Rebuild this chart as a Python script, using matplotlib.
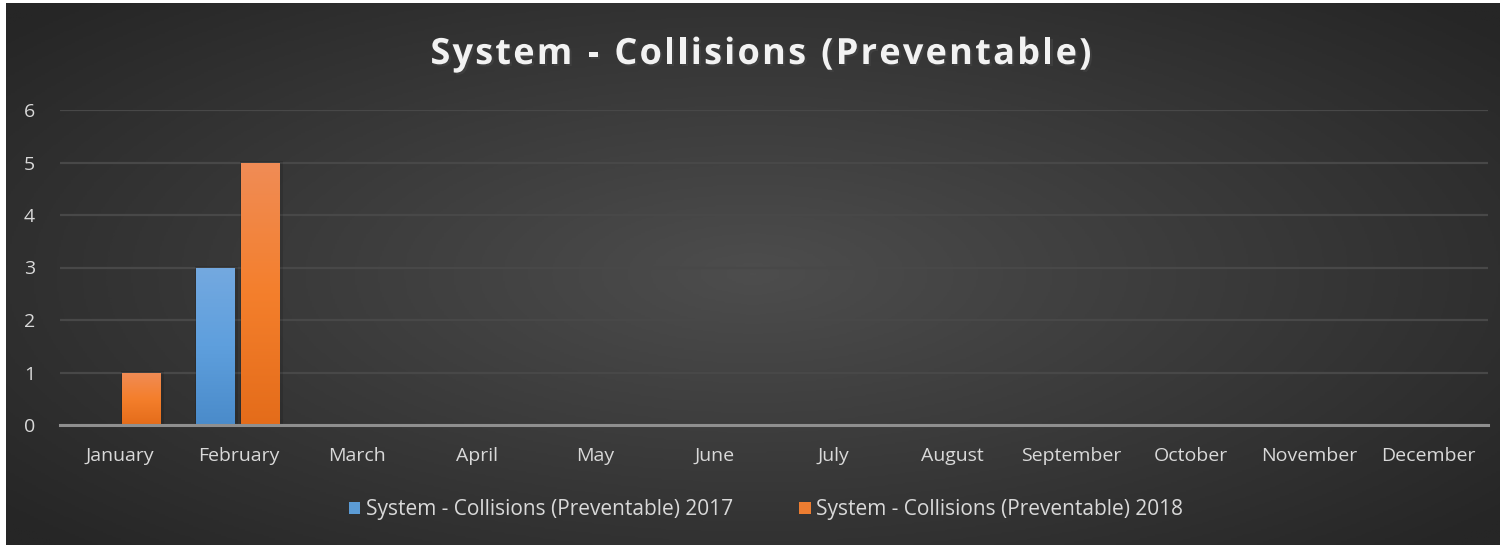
import matplotlib.pyplot as plt
import numpy as np
from matplotlib.colors import LinearSegmentedColormap
from matplotlib.patches import Patch
import matplotlib.patheffects as pe

months = ["January", "February", "March", "April", "May", "June", "July",
          "August", "September", "October", "November", "December"]
collisions_2017 = [0, 3, 0, 0, 0, 0, 0, 0, 0, 0, 0, 0]
collisions_2018 = [1, 5, 0, 0, 0, 0, 0, 0, 0, 0, 0, 0]
series_names = ["System - Collisions (Preventable) 2017",
                "System - Collisions (Preventable) 2018"]
title = "System - Collisions (Preventable)"

plt.rcParams['font.family'] = ['Open Sans', 'DejaVu Sans']

fig = plt.figure(figsize=(15.08, 5.48), dpi=100, facecolor="white")

# dark radial background panel
bg = fig.add_axes([6/1508, 3/548, 1494/1508, 542/548])
bg.set_axis_off()
yy, xx = np.mgrid[-1:1:300j, -1:1:800j]
r = np.sqrt((xx / 1.0) ** 2 + (yy / 1.1) ** 2)
bg_cmap = LinearSegmentedColormap.from_list("bg", ["#4d4d4d", "#262626"])
bg.imshow(r, cmap=bg_cmap, aspect="auto", extent=[0, 1, 0, 1], vmin=0, vmax=1.3)
bg.set_xlim(0, 1)
bg.set_ylim(0, 1)

ax = fig.add_axes([60/1508, 123/548, 1428/1508, 315/548])
ax.patch.set_alpha(0)

x = np.arange(len(months))
w = 0.32
b17 = ax.bar(x - 0.195, collisions_2017, w, color="#5b9bd5", label=series_names[0], zorder=3)
b18 = ax.bar(x + 0.185, collisions_2018, w, color="#ed7d31", label=series_names[1], zorder=3)

# vertical gradient fill on bars
grads = {
    "blue": LinearSegmentedColormap.from_list("b", ["#4a8bca", "#5e9fdd", "#74a9e0"]),
    "orange": LinearSegmentedColormap.from_list("o", ["#e46c1a", "#f47f2c", "#f08c56"]),
}
grad = np.linspace(0, 1, 256).reshape(-1, 1)
for bars, key in [(b17, "blue"), (b18, "orange")]:
    for p in bars:
        h = p.get_height()
        if h <= 0:
            continue
        x0 = p.get_x()
        # soft shadow
        ax.bar(x0 + w / 2 + 0.01, h + 0.03, w + 0.04, color="black", alpha=0.12, zorder=2)
        im = ax.imshow(grad, cmap=grads[key], origin="lower", aspect="auto",
                       extent=[x0, x0 + w, 0, h], zorder=4)
        im.set_clip_path(p)
        p.set_facecolor("none")

ax.set_xlim(-0.5, len(months) - 0.5)
ax.set_ylim(0, 6)
ax.set_yticks(range(0, 7))
ax.set_xticks(x)
ax.set_xticklabels(months)
ax.yaxis.grid(True, color="#484848", lw=1.6, zorder=0)
ax.set_axisbelow(True)
for s in ["top", "right", "left"]:
    ax.spines[s].set_visible(False)
ax.spines["bottom"].set_color("#8f8f8f")
ax.spines["bottom"].set_linewidth(2.2)
ax.spines["bottom"].set_zorder(5)
ax.tick_params(axis="both", length=0, colors="#d9d9d9", labelsize=14)
ax.tick_params(axis="x", pad=16)
ax.tick_params(axis="y", pad=18)

# title with letter spacing, drawn char by char
fig.canvas.draw()
renderer = fig.canvas.get_renderer()
tkw = dict(color="#f2f2f2", fontsize=26, fontweight="bold", va="center", ha="left",
           path_effects=[pe.withSimplePatchShadow(offset=(1.5, -1.5), alpha=0.5)])
spacing = 2.2  # px between letters
widths = []
for ch in title:
    t = fig.text(0, 0, ch if ch != " " else "n", **tkw)
    bb = t.get_window_extent(renderer)
    widths.append(bb.width * (0.45 if ch == " " else 1.0))
    t.remove()
total = sum(widths) + spacing * (len(title) - 1)
xpos = 761 - total / 2
for ch, wd in zip(title, widths):
    if ch != " ":
        fig.text(xpos / 1508, 1 - 55/548, ch, **tkw)
    xpos += wd + spacing

handles = [Patch(facecolor="#5b9bd5"), Patch(facecolor="#ed7d31")]
fig.legend(handles, series_names, loc="center", bbox_to_anchor=(766/1508, 1 - 510/548),
           ncol=2, frameon=False, labelcolor="#d9d9d9", fontsize=15,
           handlelength=0.55, handleheight=0.55, handletextpad=0.25, columnspacing=3.2)

fig.savefig("out.png", dpi=100, facecolor="white")
